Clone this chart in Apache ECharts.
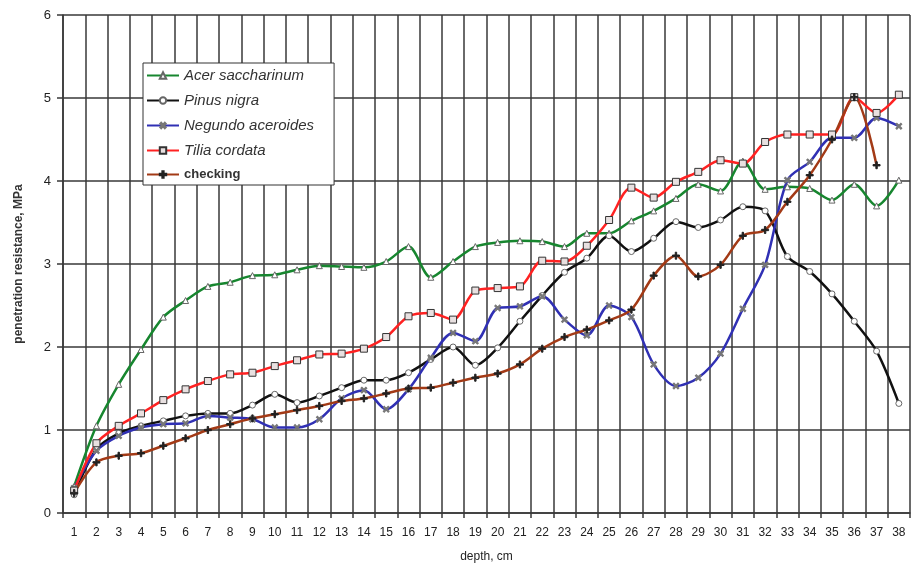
<!DOCTYPE html>
<html>
<head>
<meta charset="utf-8">
<script src="https://cdn.jsdelivr.net/npm/echarts@6/dist/echarts.min.js"></script>
<style>
  html, body { margin: 0; padding: 0; background: #fff; }
  #chart { width: 911px; height: 568px; }
</style>
</head>
<body>
<div id="chart"></div>
<script>
// depth categories, cm
const depths = ['1','2','3','4','5','6','7','8','9','10','11','12','13','14','15','16','17','18','19',
  '20','21','22','23','24','25','26','27','28','29','30','31','32','33','34','35','36','37','38'];

// penetration resistance, MPa
const acerSaccharinum = [0.32,1.05,1.55,1.97,2.36,2.56,2.73,2.78,2.86,2.87,2.93,2.98,2.97,2.96,3.03,3.21,2.84,3.03,3.21,
  3.26,3.28,3.27,3.21,3.37,3.37,3.52,3.64,3.79,3.96,3.88,4.24,3.90,3.93,3.91,3.77,3.96,3.70,4.01];
const pinusNigra = [0.22,0.77,0.96,1.05,1.11,1.17,1.20,1.20,1.30,1.43,1.33,1.41,1.51,1.60,1.60,1.69,1.85,2.00,1.78,
  1.99,2.31,2.62,2.90,3.07,3.34,3.15,3.31,3.51,3.44,3.53,3.69,3.64,3.09,2.91,2.64,2.31,1.95,1.32];
const negundoAceroides = [0.30,0.75,0.93,1.03,1.07,1.08,1.17,1.15,1.13,1.03,1.03,1.13,1.38,1.48,1.25,1.49,1.87,2.17,2.07,
  2.47,2.49,2.61,2.33,2.14,2.50,2.36,1.79,1.53,1.63,1.92,2.46,2.99,4.01,4.23,4.52,4.52,4.76,4.66];
const tiliaCordata = [0.27,0.84,1.05,1.20,1.36,1.49,1.59,1.67,1.69,1.77,1.84,1.91,1.92,1.98,2.12,2.37,2.41,2.33,2.68,
  2.71,2.73,3.04,3.03,3.22,3.53,3.92,3.80,3.99,4.11,4.25,4.21,4.47,4.56,4.56,4.56,5.01,4.82,5.04];
const checking = [0.24,0.61,0.69,0.72,0.81,0.90,1.00,1.07,1.14,1.19,1.24,1.29,1.35,1.38,1.44,1.50,1.51,1.57,1.63,
  1.68,1.79,1.98,2.12,2.21,2.32,2.45,2.86,3.10,2.85,2.99,3.34,3.41,3.75,4.07,4.50,5.01,4.19,null];

const yTicks = [0, 1, 2, 3, 4, 5, 6];

const font = 'Liberation Sans, Arial, sans-serif';
const gridColor = '#383838';

// plus shape, rotated 45 degrees it makes the x marker
const plusPath = 'path://M4,0H6V4H10V6H6V10H4V6H0V4H4Z';

function makeSeries(name, data, color, symbol, rotate, size, fill, border) {
    return {
        name: name,
        type: 'line',
        data: data,
        smooth: 0.3,
        symbol: symbol,
        symbolRotate: rotate,
        symbolSize: size,
        showAllSymbol: true,
        connectNulls: false,
        lineStyle: { color: color, width: 2.5 },
        itemStyle: { color: fill, borderColor: border, borderWidth: 1 },
        emphasis: { disabled: true }
    };
}

let myChart = echarts.init(document.getElementById('chart'));

let option = {
    animation: false,
    backgroundColor: '#fff',
    textStyle: { fontFamily: font },
    grid: { left: 63, right: 1, top: 15, bottom: 54 },
    legend: {
        orient: 'vertical',
        left: 143,
        top: 63,
        padding: [5, 20, 4, 3],
        itemGap: 10,
        itemWidth: 32,
        itemHeight: 8,
        backgroundColor: '#fff',
        borderColor: '#333',
        borderWidth: 1,
        textStyle: { fontFamily: font, fontSize: 15, color: '#333' },
        data: [
            { name: 'Acer saccharinum', textStyle: { fontStyle: 'italic' } },
            { name: 'Pinus nigra', textStyle: { fontStyle: 'italic' } },
            { name: 'Negundo aceroides', textStyle: { fontStyle: 'italic' } },
            { name: 'Tilia cordata', textStyle: { fontStyle: 'italic' } },
            { name: 'checking', textStyle: { fontWeight: 'bold', fontSize: 13 } }
        ]
    },
    xAxis: {
        type: 'category',
        data: depths,
        boundaryGap: true,
        name: 'depth, cm',
        nameLocation: 'middle',
        nameGap: 38,
        nameTextStyle: { fontFamily: font, fontSize: 12, color: '#222' },
        axisLine: { lineStyle: { color: gridColor, width: 1.5 } },
        axisTick: { show: true, length: 5, lineStyle: { color: gridColor, width: 1.5 } },
        axisLabel: { color: '#222', fontSize: 12, margin: 14, interval: 0 },
        splitLine: { show: true, interval: 0, lineStyle: { color: gridColor, width: 1.5 } }
    },
    yAxis: {
        type: 'value',
        min: yTicks[0],
        max: yTicks[yTicks.length - 1],
        interval: 1,
        name: 'penetration resistance, MPa',
        nameLocation: 'middle',
        nameGap: 38,
        nameRotate: 90,
        nameTextStyle: { fontFamily: font, fontSize: 12, fontWeight: 'bold', color: '#333' },
        axisLine: { show: true, lineStyle: { color: gridColor, width: 1.5 } },
        axisTick: { show: true, length: 6, lineStyle: { color: gridColor, width: 1.5 } },
        axisLabel: { color: '#222', fontSize: 13, margin: 12 },
        splitLine: { show: true, lineStyle: { color: gridColor, width: 1.5 } }
    },
    series: [
        makeSeries('Acer saccharinum', acerSaccharinum, '#17862f', 'triangle', 0, 6, '#fff', '#666'),
        makeSeries('Pinus nigra', pinusNigra, '#111', 'circle', 0, 6, '#fff', '#666'),
        makeSeries('Negundo aceroides', negundoAceroides, '#3030b4', plusPath, 45, 7, '#777', '#777'),
        makeSeries('Tilia cordata', tiliaCordata, '#ff2222', 'rect', 0, 7, '#e8e0e0', '#333'),
        makeSeries('checking', checking, '#a33a16', plusPath, 0, 7, '#222', '#222')
    ]
};

myChart.setOption(option);
</script>
</body>
</html>
